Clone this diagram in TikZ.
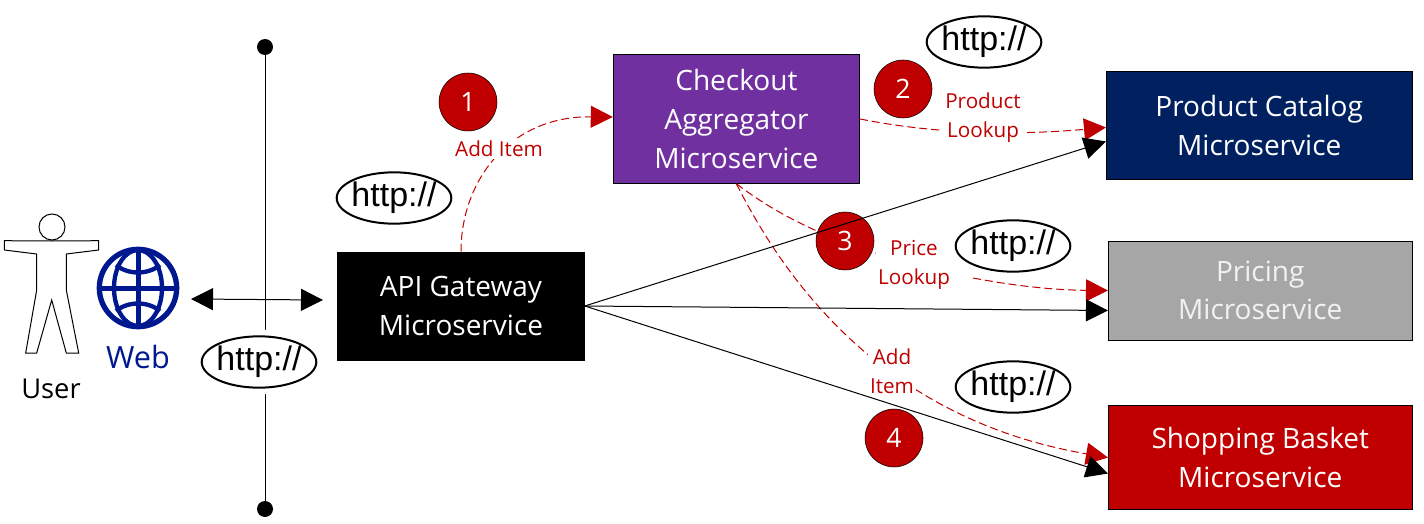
\documentclass[tikz,border=0pt]{standalone}
\usepackage{fontspec}
\setmainfont{Open Sans}
\newfontfamily\httpfont{Liberation Sans}
\usetikzlibrary{shapes.geometric,arrows.meta,positioning,calc}
\definecolor{stepred}{HTML}{C00000}
\definecolor{webblue}{HTML}{00188F}
\definecolor{checkoutpurple}{HTML}{7030A0}
\definecolor{catalognavy}{HTML}{002060}
\definecolor{pricinggray}{HTML}{A6A6A6}

\begin{document}
\begin{tikzpicture}[x=0.75pt,y=-0.75pt,
  box/.style={draw=black,fill=#1,text=white,align=center,font=\fontsize{21}{29}\selectfont,inner sep=0pt},
  stepdot/.style={circle,draw=black,fill=stepred,text=white,minimum size=43.5pt,inner sep=0pt,font=\fontsize{20}{22}\selectfont},
  httpbubble/.style={ellipse,draw=black,line width=1.5pt,fill=white,minimum width=82pt,minimum height=38.5pt,inner xsep=-1.5pt,inner ysep=0pt,font=\httpfont\fontsize{25.5}{28}\selectfont,preaction={draw=white,line width=10pt}},
  redlabel/.style={fill=white,text=stepred,align=center,inner sep=1.5pt,font=\fontsize{15.5}{21.75}\selectfont},
  arr/.style={-{Triangle[length=16.5pt,width=16.5pt]},line width=0.75pt},
  redline/.style={draw=stepred,line width=0.75pt,dash pattern=on 6pt off 3pt},
  redarr/.style={arr,redline},
  dot/.style={circle,fill=black,minimum size=12pt,inner sep=0pt}]
\useasboundingbox (0,0) rectangle (1424,524);
\node[box=black,minimum width=185.25pt,minimum height=81pt] (gateway) at (461,306) {API Gateway\\Microservice};
\node[box=checkoutpurple,minimum width=185pt,minimum height=96.75pt,above right=51pt and 21pt of gateway] (checkout) {Checkout\\Aggregator\\Microservice};
\node[box=catalognavy,minimum width=229.5pt,minimum height=81pt,right=184.5pt of checkout,yshift=-4.875pt] (catalog) {Product Catalog\\Microservice};
\node[box=pricinggray,text=white!95!black,minimum width=228pt,minimum height=74.25pt,below=45.75pt of catalog,xshift=0.75pt] (pricing) {Pricing\\Microservice};
\node[box=stepred,minimum width=228pt,minimum height=78pt,below=48.75pt of pricing] (basket) {Shopping Basket\\Microservice};

\node[dot] (top) at (265,47) {};
\node[dot] (bottom) at (265,509) {};
\draw[line width=0.75pt] (top)--(bottom);

\node[circle,draw=black,line width=0.75pt,minimum size=19.5pt,inner sep=0pt] (head) at (52,227) {};
\draw[line width=0.75pt] (52,241)--(98.7,240.7)--(98.7,250)--(66.3,254)--(66.3,290)--(78.7,353)--(66.3,353)--(51.7,300)--(36.7,353)--(25.7,353)--(36.7,290)--(36.7,254)--(4.3,250)--(4.3,240.7)--cycle;
\node[font=\fontsize{20.5}{22}\selectfont] (user) at (51,389) {User};

\node[circle,draw=webblue,line width=4pt,minimum size=58pt,inner sep=0pt] (globe) at (138,288) {};
\draw[webblue,line width=3.75pt] (globe.north)--(globe.south) (globe.west)--(globe.east);
\draw[webblue,line width=3.25pt] (138,288) ellipse (24 and 38);
\draw[webblue,line width=3.25pt] (116,265) .. controls (128,275) and (148,275) .. (160,265);
\draw[webblue,line width=3.25pt] (116,311) .. controls (128,301) and (148,301) .. (160,311);
\node[text=webblue,font=\fontsize{23}{25}\selectfont] (web) at (138,357) {Web};

\coordinate (webend) at (191,299);
\coordinate (gatewayend) at (323,300);
\draw[{Triangle[length=16.5pt,width=16.5pt]}-{Triangle[length=16.5pt,width=16.5pt]},line width=0.75pt] (webend)--(gatewayend);

\node[redlabel] (price) at (914,265) {Price\\Lookup};
\coordinate (pricegap) at (973,278);

\draw[redarr] (gateway.north) .. controls (461,180) and (510,116) .. ($(checkout.west)+(0,-2)$);
\draw[redarr] (checkout.east) .. controls (940,135) and (1020,135) .. ($(catalog.west)+(0,2)$);
\draw[redline] (checkout.south) .. controls (790,225) and (850,245) .. (price);
\draw[redarr] (pricegap) .. controls (1010,285) and (1050,290) .. (pricing.west);
\draw[redarr] (checkout.south) .. controls (790,290) and (890,420) .. (basket.west);

\node[stepdot] (one) at (468,102) {1};
\node[stepdot] (two) at (903,89) {2};
\node[stepdot] (three) at (845,241) {3};
\node[stepdot] (four) at (894,438) {4};

\draw[arr] (gateway.east)--($(catalog.west)+(0,16)$);
\draw[arr] (gateway.east)--($(pricing.west)+(0,20)$);
\draw[arr] (gateway.east)--($(basket.west)+(0,16)$);

\node[httpbubble] (httpweb) at (259,362) {http://};
\node[httpbubble] (httpgateway) at (394,198) {http://};
\node[httpbubble] (httpcatalog) at (984,42) {http://};
\node[httpbubble] (httppricing) at (1013,246) {http://};
\node[httpbubble] (httpbasket) at (1013,387) {http://};

\node[redlabel] (additem) at (499,149) {Add Item};
\node[redlabel] (product) at (983,118) {Product\\Lookup};
\node[redlabel] (addbasket) at (892,371) {Add\\Item};
\end{tikzpicture}
\end{document}
